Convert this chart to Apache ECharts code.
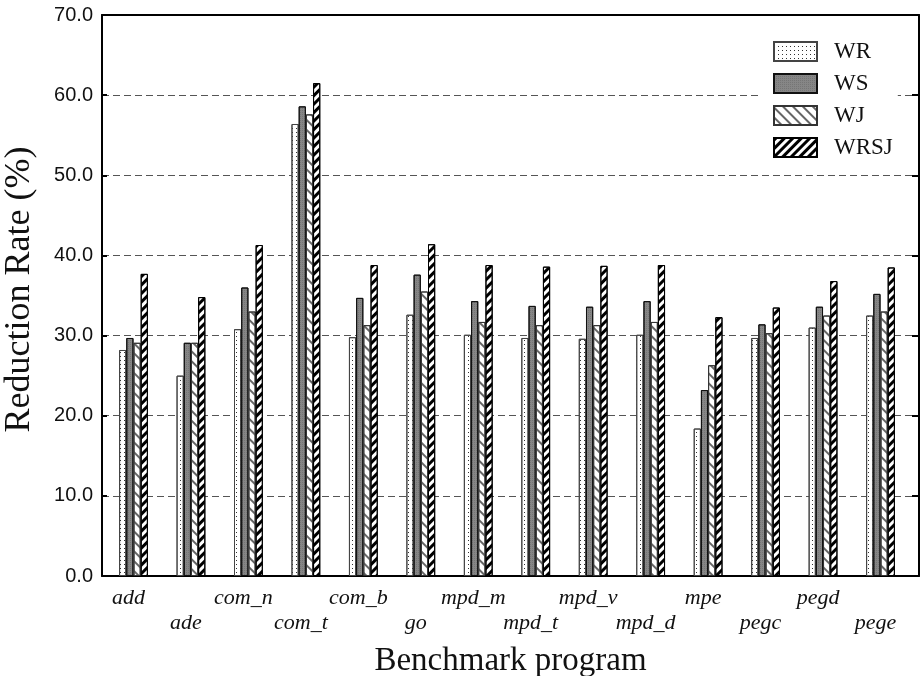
<!DOCTYPE html>
<html>
<head>
<meta charset="utf-8">
<script src="https://cdn.jsdelivr.net/npm/echarts@6/dist/echarts.min.js"></script>
<style>
  html, body { margin: 0; padding: 0; background: #fff; }
  #chart { width: 921px; height: 676px; }
</style>
</head>
<body>
<div id="chart"></div>
<script>
// Benchmark programs and reduction rates (%) for each technique
const categories = ['add', 'ade', 'com_n', 'com_t', 'com_b', 'go', 'mpd_m', 'mpd_t', 'mpd_v', 'mpd_d', 'mpe', 'pegc', 'pegd', 'pege'];
const seriesNames = ['WR', 'WS', 'WJ', 'WRSJ'];
const wrValues   = [28.2, 25.0, 30.8, 56.4, 29.8, 32.6, 30.1, 29.7, 29.6, 30.1, 18.4, 29.7, 31.0, 32.5];
const wsValues   = [29.7, 29.1, 36.0, 58.6, 34.7, 37.6, 34.3, 33.7, 33.6, 34.3, 23.2, 31.4, 33.6, 35.2];
const wjValues   = [29.1, 29.1, 33.0, 57.6, 31.3, 35.5, 31.7, 31.3, 31.3, 31.7, 26.3, 30.3, 32.5, 33.0];
const wrsjValues = [37.7, 34.8, 41.3, 61.5, 38.8, 41.4, 38.8, 38.6, 38.7, 38.8, 32.3, 33.5, 36.8, 38.5];
const yTickValues = [0, 10, 20, 30, 40, 50, 60, 70];

const allValues = [wrValues, wsValues, wjValues, wrsjValues];

// fill patterns for the four techniques
const styles = [
  { color: '#ffffff', borderColor: '#444', decal: { symbol: 'rect', symbolSize: 1, dashArrayX: [1, 3], dashArrayY: [1, 3], color: '#333', rotation: 0 } },
  { color: '#868686', borderColor: '#111', decal: { symbol: 'rect', symbolSize: 1, dashArrayX: [1, 1], dashArrayY: [1, 1], color: 'rgba(0,0,0,0.12)', rotation: 0 } },
  { color: '#ffffff', borderColor: '#333', decal: { symbol: 'rect', symbolSize: 1, dashArrayX: [[1, 0]], dashArrayY: [1.2, 5], color: '#666', rotation: Math.PI / 4 } },
  { color: '#ffffff', borderColor: '#000', decal: { symbol: 'rect', symbolSize: 1, dashArrayX: [[1, 0]], dashArrayY: [2.3, 2.4], color: '#000', rotation: -Math.PI / 4 } }
];

const xMin = -0.548, xMax = 13.67;
const catIdx = categories.map((c, i) => i);

const chart = echarts.init(document.getElementById('chart'), null, { renderer: 'canvas' });

const series = seriesNames.map((name, s) => ({
  name: name,
  type: 'bar',
  xAxisIndex: 0,
  yAxisIndex: 0,
  barWidth: 7.2,
  barGap: '0%',
  itemStyle: {
    color: styles[s].color,
    borderColor: styles[s].borderColor,
    borderWidth: 1,
    decal: styles[s].decal
  },
  data: allValues[s].map((v, i) => [i, v])
}));

const option = {
  animation: false,
  backgroundColor: '#ffffff',
  grid: { left: 102, right: 2, top: 15, bottom: 100, containLabel: false, outerBoundsMode: 'none' },
  legend: {
    orient: 'vertical',
    left: 758,
    top: 22,
    padding: [18, 5, 14, 15],
    backgroundColor: '#ffffff',
    icon: 'rect',
    itemWidth: 43,
    itemHeight: 19,
    itemGap: 9,
    data: seriesNames,
    textStyle: {
      fontFamily: 'Liberation Serif',
      fontSize: 23,
      color: '#111',
      lineHeight: 20,
      padding: [0, 0, 0, 12],
      width: 45,
      overflow: 'none'
    }
  },
  xAxis: [
    {
      type: 'value',
      min: xMin,
      max: xMax,
      position: 'bottom',
      name: 'Benchmark program',
      nameLocation: 'middle',
      nameGap: 69,
      nameTextStyle: { fontFamily: 'Liberation Serif', fontSize: 33, color: '#111' },
      axisLine: { show: true, onZero: false, lineStyle: { color: '#000', width: 2 } },
      axisTick: { show: false },
      splitLine: { show: false },
      axisLabel: {
        customValues: catIdx,
        margin: 10,
        fontFamily: 'Liberation Serif',
        fontStyle: 'italic',
        fontSize: 22,
        color: '#111',
        lineHeight: 25,
        padding: [0, 10, 0, 0],
        formatter: function (v) {
          const i = Math.round(v);
          return (i % 2 === 1 ? '\n' : '') + categories[i];
        }
      }
    },
    {
      type: 'value',
      min: xMin,
      max: xMax,
      position: 'top',
      axisLine: { show: true, onZero: false, lineStyle: { color: '#000', width: 2 } },
      axisTick: { show: false },
      axisLabel: { show: false },
      splitLine: { show: false }
    }
  ],
  yAxis: [
    {
      type: 'value',
      min: 0,
      max: 70,
      interval: 10,
      position: 'left',
      name: 'Reduction Rate (%)',
      nameLocation: 'middle',
      nameGap: 64,
      nameTextStyle: { fontFamily: 'Liberation Serif', fontSize: 36, color: '#111', padding: [0, 0, 0, 12] },
      axisLine: { show: true, onZero: false, lineStyle: { color: '#000', width: 2 } },
      axisTick: { show: true, inside: true, length: 5, lineStyle: { color: '#000', width: 2 } },
      axisLabel: {
        margin: 9,
        fontFamily: 'Liberation Sans',
        fontSize: 20,
        color: '#111',
        formatter: function (v) { return v.toFixed(1); }
      },
      splitLine: { show: true, lineStyle: { color: '#555', width: 1, type: [7, 4] } }
    },
    {
      type: 'value',
      min: 0,
      max: 70,
      interval: 10,
      position: 'right',
      axisLine: { show: true, onZero: false, lineStyle: { color: '#000', width: 2 } },
      axisTick: { show: true, inside: true, length: 7, lineStyle: { color: '#000', width: 2 } },
      axisLabel: { show: false },
      splitLine: { show: false }
    }
  ],
  series: series
};

chart.setOption(option);
</script>
</body>
</html>
